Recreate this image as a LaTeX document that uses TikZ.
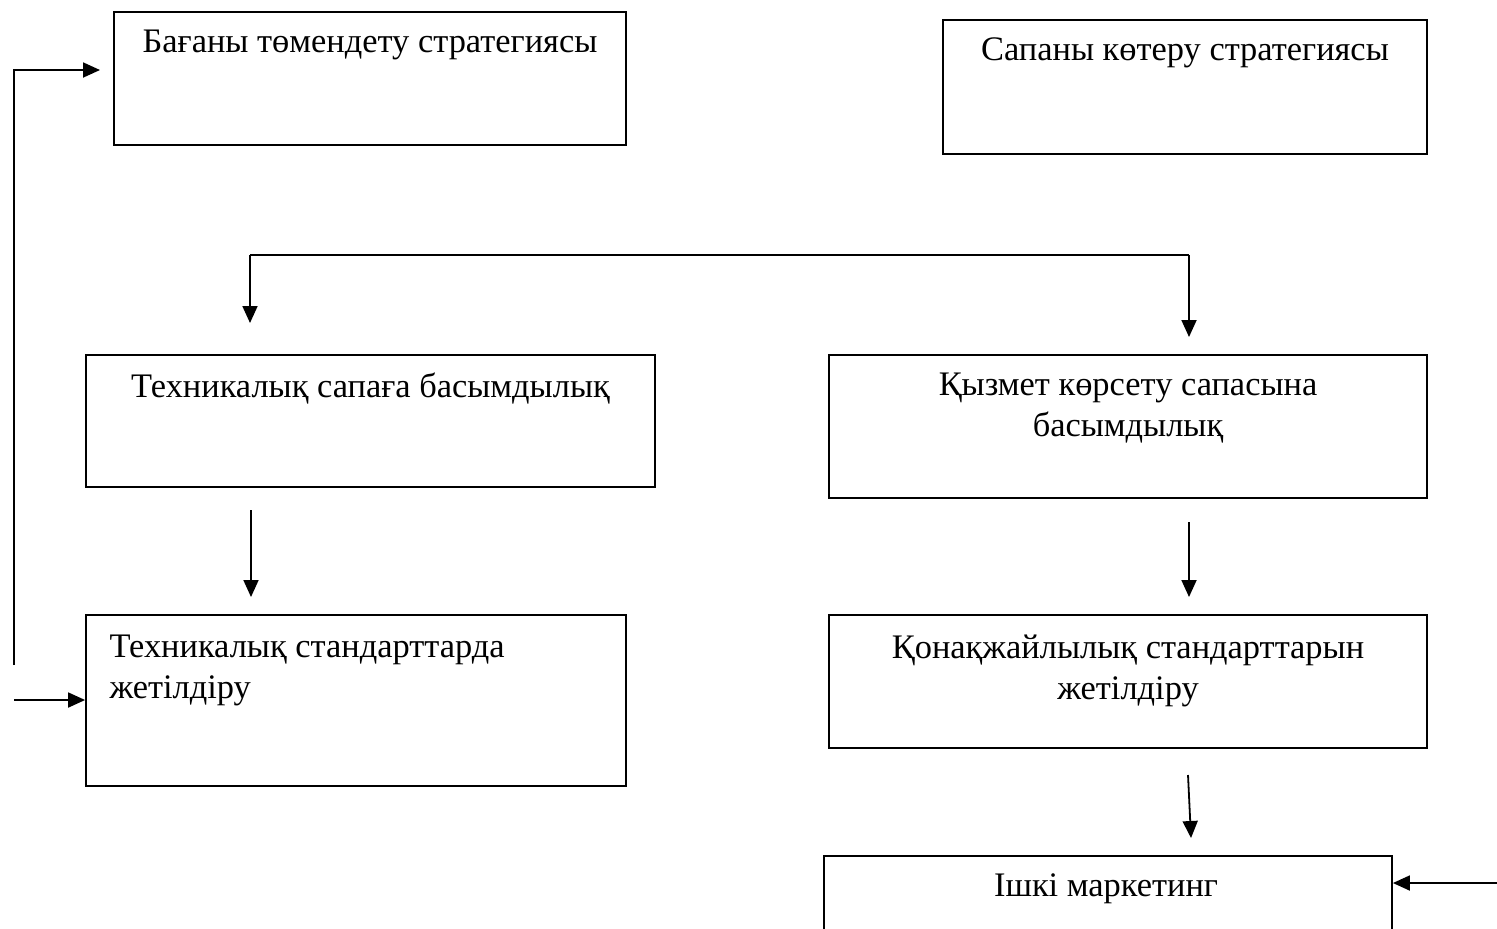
\documentclass[tikz,border=0pt]{standalone}
\usepackage{fontspec}
\setmainfont{Liberation Serif}
\usetikzlibrary{arrows.meta,fit}
\tikzset{
  box/.style={draw, line width=0.9pt, inner sep=0pt},
  lbl/.style={inner sep=0pt, anchor=north, align=center, font=\fontsize{17.2}{20.5}\selectfont},
  lbll/.style={inner sep=0pt, anchor=north west, align=left, font=\fontsize{17.2}{20.5}\selectfont},
  arr/.style={line width=0.9pt, -{Triangle[length=8.5pt,width=7.5pt]}},
  ln/.style={line width=0.9pt}
}
\begin{document}
\begin{tikzpicture}[x=0.5pt,y=-0.5pt]
\useasboundingbox (0,0) rectangle (1497,928);
\clip (0,0) rectangle (1497,928);
\fill[white] (0,0) rectangle (1497,928);
% boxes
\node[box, fit={(114,12)(626,145)}] (b1) {};
\node[box, fit={(943,20)(1427,154)}] (b2) {};
\node[box, fit={(86,355)(655,487)}] (b3) {};
\node[box, fit={(829,355)(1427,498)}] (b4) {};
\node[box, fit={(86,615)(626,786)}] (b5) {};
\node[box, fit={(829,615)(1427,748)}] (b6) {};
\node[box, fit={(824,856)(1392,980)}] (b7) {};
% texts
\node[lbl] (t1) at ([yshift=-9pt]b1.north) {Бағаны төмендету стратегиясы};
\node[lbl] (t2) at ([yshift=-9pt]b2.north) {Сапаны көтеру стратегиясы};
\node[lbl] (t3) at ([yshift=-9pt]b3.north) {Техникалық сапаға басымдылық};
\node[lbl] (t4) at ([yshift=-9pt]b4.north) {Қызмет көрсету сапасына\\басымдылық};
\node[lbll] (t5) at ([xshift=12pt,yshift=-10pt]b5.north west) {Техникалық стандарттарда\\жетілдіру};
\node[lbl] (t6) at ([yshift=-10pt]b6.north) {Қонақжайлылық стандарттарын\\жетілдіру};
\node[lbl] (t7) at ([yshift=-9pt,xshift=-1pt]b7.north) {Ішкі маркетинг};
% free ends
\coordinate (la) at (14,665);
\coordinate (lb) at (100,70);
\coordinate (lc) at (14,700);
\coordinate (ta) at (250,255);
\coordinate (tb) at (1189,255);
\coordinate (ta2) at (250,323);
\coordinate (tb2) at (1189,337);
\coordinate (ma) at (251,510);
\coordinate (mb) at (251,597);
\coordinate (na) at (1189,522);
\coordinate (nb) at (1189,597);
\coordinate (oa) at (1188,775);
\coordinate (ob) at (1191,838);
\coordinate (ra) at (1497,883);
% connectors
\draw[arr] (la) |- (lb);
\draw[arr] (lc) -- (b5.west |- lc);
\draw[ln] (ta) -- (tb);
\draw[arr] (ta) -- (ta2);
\draw[arr] (tb) -- (tb2);
\draw[arr] (ma) -- (mb);
\draw[arr] (na) -- (nb);
\draw[arr] (oa) -- (ob);
\draw[arr] (ra) -- (b7.east |- ra);
\end{tikzpicture}
\end{document}
